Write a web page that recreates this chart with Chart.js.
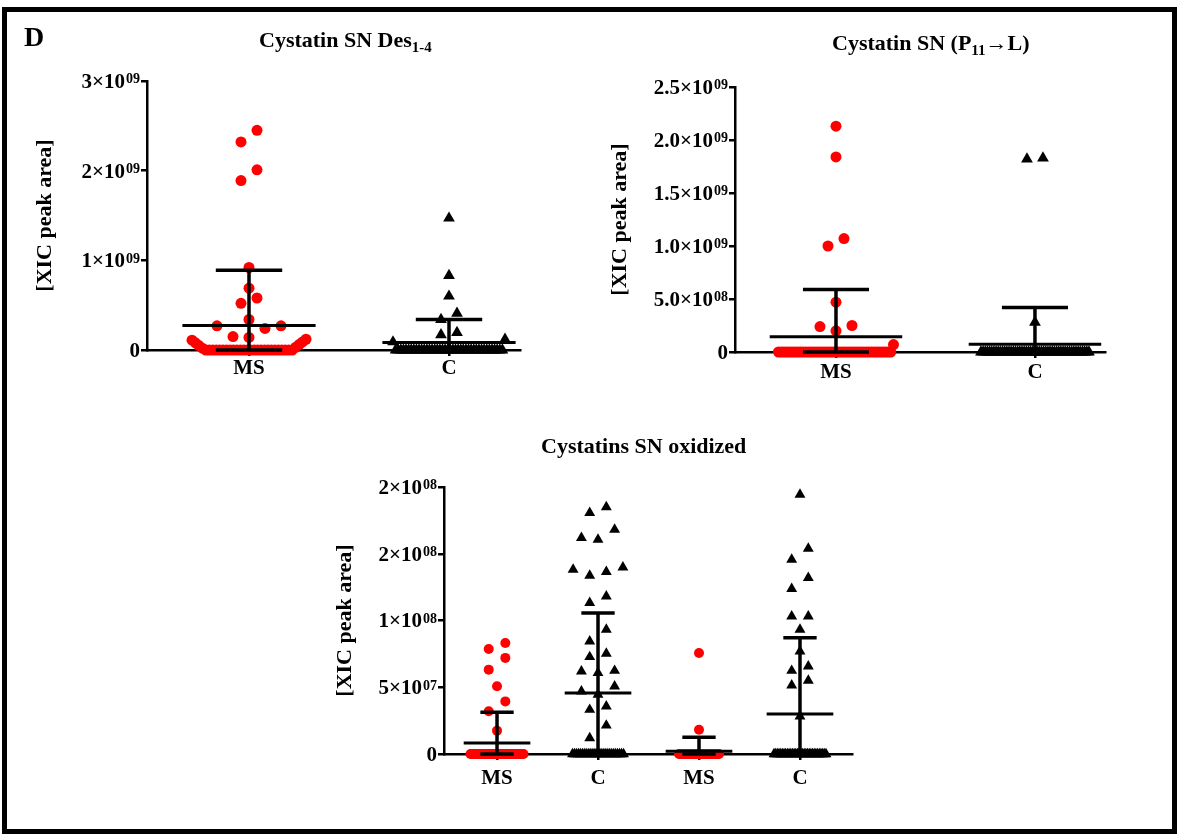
<!DOCTYPE html>
<html>
<head>
<meta charset="utf-8">
<script src="https://cdn.jsdelivr.net/npm/chart.js@4.4.1/dist/chart.umd.min.js"></script>
<style>
  html, body { margin: 0; padding: 0; background: #fff; }
  #page {
    position: relative; width: 1179px; height: 835px; overflow: hidden; background: #fff;
    font-family: 'Liberation Serif', 'Times New Roman', 'DejaVu Serif', serif;
    font-weight: bold; color: #000;
  }
  #frame {
    position: absolute; left: 2px; top: 7px; width: 1175px; height: 827px;
    box-sizing: border-box; border: 5px solid #000;
  }
  canvas { position: absolute; left: 0; top: 0; }
  .t { position: absolute; white-space: nowrap; font-size: 22px; line-height: 22px; }
  .sub { font-size: 15px; position: relative; top: 5px; }
  #panel { font-size: 28px; line-height: 28px; left: 24px; top: 23px; }
  #t1 { left: 259px; top: 29px; }
  #t2 { left: 832px; top: 32px; }
  #t3 { left: 541px; top: 435px; }
</style>
</head>
<body>
<div id="page">
  <div id="frame"></div>
  <canvas id="chartDes" width="1179" height="835"></canvas>
  <canvas id="chartP11" width="1179" height="835"></canvas>
  <canvas id="chartOx" width="1179" height="835"></canvas>
  <div class="t" id="panel">D</div>
  <div class="t" id="t1">Cystatin SN Des<span class="sub">1-4</span></div>
  <div class="t" id="t2">Cystatin SN (P<span class="sub">11</span>→L)</div>
  <div class="t" id="t3">Cystatins SN oxidized</div>
</div>
<script>
// ---------- Cystatin SN Des1-4 ----------
const desCategories = ['MS', 'C'];
const desMS = [
  2.45e9, 2.32e9, 2.01e9, 1.89e9, 0.92e9, 0.69e9, 0.58e9, 0.52e9, 0.34e9, 0.27e9,
  0.27e9, 0.24e9, 0.15e9, 0.14e9, 0.12e9, 0.11e9, 0.09e9, 0.08e9, 0.06e9, 0.05e9,
  0.03e9, 0.02e9,
  0, 0, 0, 0, 0, 0, 0, 0, 0, 0, 0, 0, 0, 0, 0, 0, 0, 0, 0, 0, 0, 0, 0, 0, 0, 0
];
const desC = [
  1.47e9, 0.83e9, 0.60e9, 0.41e9, 0.34e9, 0.195e9, 0.17e9, 0.12e9, 0.09e9,
  0, 0, 0, 0, 0, 0, 0, 0, 0, 0, 0, 0, 0, 0, 0, 0, 0, 0, 0, 0, 0,
  0, 0, 0, 0, 0, 0, 0, 0, 0, 0, 0, 0, 0, 0, 0, 0, 0, 0, 0, 0, 0
];
const desMean = [0.274e9, 0.085e9];
const desSD = [0.616e9, 0.255e9];
const desTicks = [0, 1e9, 2e9, 3e9];
const desTickLabels = ['0', '1×10⁰⁹', '2×10⁰⁹', '3×10⁰⁹'];

// ---------- Cystatin SN (P11→L) ----------
const p11Categories = ['MS', 'C'];
const p11MS = [
  2.13e9, 1.84e9, 1.07e9, 1.00e9, 0.47e9, 0.25e9, 0.24e9, 0.20e9, 0.07e9,
  0, 0, 0, 0, 0, 0, 0, 0, 0, 0, 0, 0, 0, 0, 0, 0, 0, 0, 0, 0, 0,
  0, 0, 0, 0, 0, 0, 0, 0, 0, 0, 0, 0, 0, 0, 0, 0, 0, 0, 0, 0, 0
];
const p11C = [
  1.83e9, 1.82e9, 0.28e9,
  0, 0, 0, 0, 0, 0, 0, 0, 0, 0, 0, 0, 0, 0, 0, 0, 0, 0, 0, 0, 0,
  0, 0, 0, 0, 0, 0, 0, 0, 0, 0, 0, 0, 0, 0, 0, 0, 0, 0, 0, 0, 0,
  0, 0, 0, 0, 0, 0, 0, 0, 0
];
const p11Mean = [0.145e9, 0.073e9];
const p11SD = [0.445e9, 0.347e9];
const p11Ticks = [0, 0.5e9, 1.0e9, 1.5e9, 2.0e9, 2.5e9];
const p11TickLabels = ['0', '5.0×10⁰⁸', '1.0×10⁰⁹', '1.5×10⁰⁹', '2.0×10⁰⁹', '2.5×10⁰⁹'];

// ---------- Cystatins SN oxidized ----------
const oxCategories = ['MS', 'C', 'MS', 'C'];
const oxMS1 = [
  83.2e6, 78.7e6, 72.0e6, 63.2e6, 50.7e6, 39.4e6, 32.0e6, 17.5e6,
  0, 0, 0, 0, 0, 0, 0, 0, 0, 0, 0, 0, 0, 0, 0, 0, 0, 0, 0, 0, 0, 0, 0,
  0, 0, 0, 0, 0, 0, 0, 0, 0, 0, 0, 0, 0, 0, 0, 0, 0, 0, 0, 0, 0, 0
];
const oxC1 = [
  184.9e6, 180.6e6, 168.1e6, 161.9e6, 160.6e6, 139.9e6, 138.2e6, 136.4e6, 133.7e6,
  118.1e6, 113.2e6, 93.2e6, 84.4e6, 75.2e6, 72.7e6, 62.4e6, 61.9e6, 60.7e6,
  50.7e6, 46.9e6, 44.5e6, 35.7e6, 33.2e6, 21.4e6, 12.0e6,
  0, 0, 0, 0, 0, 0, 0, 0, 0, 0, 0, 0, 0, 0, 0, 0, 0, 0, 0, 0, 0, 0, 0, 0, 0, 0, 0
];
const oxMS2 = [
  75.7e6, 18.2e6,
  0, 0, 0, 0, 0, 0, 0, 0, 0, 0, 0, 0, 0, 0, 0, 0, 0, 0, 0, 0, 0, 0, 0,
  0, 0, 0, 0, 0, 0, 0, 0, 0, 0, 0, 0, 0, 0, 0, 0, 0, 0, 0, 0, 0, 0
];
const oxC2 = [
  194.4e6, 153.9e6, 145.7e6, 131.9e6, 123.7e6, 103.2e6, 103.2e6, 93.2e6,
  76.9e6, 65.7e6, 62.4e6, 55.0e6, 51.4e6, 28.2e6,
  0, 0, 0, 0, 0, 0, 0, 0, 0, 0, 0, 0, 0, 0, 0, 0,
  0, 0, 0, 0, 0, 0, 0, 0, 0, 0, 0, 0, 0, 0, 0, 0
];
const oxMean = [8.2e6, 45.7e6, 2.0e6, 30.0e6];
const oxSD = [23.0e6, 60.0e6, 10.5e6, 57.0e6];
const oxTicks = [0, 5e7, 1e8, 1.5e8, 2e8];
const oxTickLabels = ['0', '5×10⁰⁷', '1×10⁰⁸', '2×10⁰⁸', '2×10⁰⁸'];

// ---------- shared styling ----------
const PAGE_W = 1179, PAGE_H = 835;
const SERIF = "'Liberation Serif', 'Times New Roman', 'DejaVu Serif', serif";
const RED = '#ff0000';
const BLACK = '#000000';
const SUPERSCRIPTS = '⁰¹²³⁴⁵⁶⁷⁸⁹';
const TICK_SIZE = 21, EXP_SIZE = 14, TICK_LEN = 6;
const dot = (r, spread) => ({ color: RED, style: 'circle', radius: r, spread });
const tri = (r, spread) => ({ color: BLACK, style: 'triangle', radius: r, spread });

// Split "3×10⁰⁹" into the mantissa part and the exponent digits.
function splitPower(label) {
  let base = '', exp = '';
  for (const ch of label) {
    const k = SUPERSCRIPTS.indexOf(ch);
    if (k >= 0) exp += String(k); else base += ch;
  }
  return { base, exp };
}

// Column scatter layout: points whose values lie within one row height are
// laid side by side around the column centre; crowded rows are compressed.
function layoutColumns(chart, spec) {
  const xs = chart.scales.x, ys = chart.scales.y;
  spec.series.forEach((values, gi) => {
    const look = spec.looks[gi];
    const cx = xs.getPixelForValue(gi + 1);
    const pts = values.map(v => ({ v, py: ys.getPixelForValue(v) })).sort((a, b) => a.v - b.v);
    const rows = [];
    let row = null;
    pts.forEach(p => {
      if (!row || row.base - p.py >= spec.rowGap) { row = { base: p.py, items: [] }; rows.push(row); }
      row.items.push(p);
    });
    const data = [];
    rows.forEach(r => {
      const n = r.items.length;
      let step = spec.step;
      if (n > 1 && (n - 1) * step > look.spread) step = look.spread / (n - 1);
      const slots = r.items.map((_, i) => (i - (n - 1) / 2) * step)
        .sort((a, b) => (Math.abs(a) - Math.abs(b)) || (a - b));
      r.items.forEach((p, i) => data.push({ x: xs.getValueForPixel(cx + slots[i]), y: p.v }));
    });
    chart.data.datasets[gi].data = data;
  });
  chart.update('none');
}

function strokeLine(ctx, x1, y1, x2, y2, w) {
  ctx.lineWidth = w;
  ctx.beginPath(); ctx.moveTo(x1, y1); ctx.lineTo(x2, y2); ctx.stroke();
}

function makePanel(canvasId, spec) {
  const a = spec.area;
  const panelPlugin = {
    id: 'panel_' + canvasId,
    // mean line with SD whiskers over each column
    afterDatasetsDraw(chart) {
      const { ctx } = chart;
      const x = chart.scales.x, y = chart.scales.y;
      ctx.save();
      ctx.strokeStyle = BLACK;
      ctx.lineCap = 'butt';
      spec.mean.forEach((m, i) => {
        const c = i + 1;
        const hi = m + spec.sd[i];
        const lo = Math.max(0, m - spec.sd[i]);
        const px = x.getPixelForValue(c);
        strokeLine(ctx, px, y.getPixelForValue(lo), px, y.getPixelForValue(hi), spec.stemWidth);
        [hi, lo].forEach(v => {
          const py = y.getPixelForValue(v);
          strokeLine(ctx, x.getPixelForValue(c - spec.capHalf), py, x.getPixelForValue(c + spec.capHalf), py, spec.capWidth);
        });
        const pm = y.getPixelForValue(m);
        strokeLine(ctx, x.getPixelForValue(c - spec.meanHalf), pm, x.getPixelForValue(c + spec.meanHalf), pm, spec.meanWidth);
      });
      ctx.restore();
    },
    // y tick labels in power-of-ten notation with raised exponents
    afterDraw(chart) {
      const { ctx } = chart;
      const y = chart.scales.y;
      const right = chart.chartArea.left - TICK_LEN - 1;
      ctx.save();
      ctx.fillStyle = BLACK;
      ctx.textAlign = 'left';
      ctx.textBaseline = 'alphabetic';
      const baseFont = `bold ${TICK_SIZE}px ${SERIF}`;
      const expFont = `bold ${EXP_SIZE}px ${SERIF}`;
      const capHalf = TICK_SIZE * 0.662 / 2;
      y.ticks.forEach((t, i) => {
        const { base, exp } = splitPower(spec.tickLabels[i]);
        const py = y.getPixelForValue(t.value);
        ctx.font = expFont;
        const wExp = exp ? ctx.measureText(exp).width + 1 : 0;
        ctx.font = baseFont;
        const wBase = ctx.measureText(base).width;
        const x0 = right - wExp - wBase;
        ctx.fillText(base, x0, py + capHalf);
        if (exp) {
          ctx.font = expFont;
          ctx.fillText(exp, x0 + wBase + 1, py - capHalf + EXP_SIZE * 0.662);
        }
      });
      ctx.restore();
    }
  };

  const chart = new Chart(document.getElementById(canvasId), {
    type: 'scatter',
    data: {
      datasets: spec.series.map((values, gi) => ({
        data: values.map(v => ({ x: gi + 1, y: v })),
        pointStyle: spec.looks[gi].style,
        pointRadius: spec.looks[gi].radius,
        backgroundColor: spec.looks[gi].color,
        borderColor: spec.looks[gi].color,
        borderWidth: 0,
        clip: false
      }))
    },
    options: {
      responsive: false,
      animation: false,
      events: [],
      layout: {
        padding: {
          left: a.left - spec.yWidth,
          top: a.top,
          right: PAGE_W - a.right,
          bottom: PAGE_H - a.bottom - spec.xHeight
        }
      },
      plugins: { legend: { display: false }, tooltip: { enabled: false }, title: { display: false } },
      scales: {
        x: {
          type: 'linear',
          min: spec.xMin, max: spec.xMax,
          afterBuildTicks: s => { s.ticks = spec.categories.map((_, i) => ({ value: i + 1 })); },
          afterFit: s => { s.height = spec.xHeight; },
          ticks: {
            autoSkip: false, maxRotation: 0, padding: spec.xPad, color: BLACK,
            font: { family: SERIF, size: 21, weight: 'bold' },
            callback: (v, i) => spec.categories[i]
          },
          grid: { display: true, drawOnChartArea: false, drawTicks: true, tickLength: TICK_LEN, color: BLACK, lineWidth: 2.5 },
          border: { display: true, color: BLACK, width: 2.5 }
        },
        y: {
          type: 'linear',
          min: 0, max: spec.yMax,
          afterBuildTicks: s => { s.ticks = spec.ticks.map(v => ({ value: v })); },
          afterFit: s => { s.width = spec.yWidth; },
          ticks: { display: false, autoSkip: false },
          title: {
            display: true, text: '[XIC peak area]', color: BLACK, padding: 0,
            font: { family: SERIF, size: 22, weight: 'bold' }
          },
          grid: { display: true, drawOnChartArea: false, drawTicks: true, tickLength: TICK_LEN, color: BLACK, lineWidth: 2.5 },
          border: { display: true, color: BLACK, width: 2.5 }
        }
      }
    },
    plugins: [panelPlugin]
  });
  layoutColumns(chart, spec);
  return chart;
}

makePanel('chartDes', {
  area: { left: 147, top: 81, right: 520, bottom: 350 },
  yWidth: 115, xHeight: 40, xPad: 0,
  xMin: 0.49, xMax: 2.355, yMax: 3e9,
  categories: desCategories, ticks: desTicks, tickLabels: desTickLabels,
  series: [desMS, desC], looks: [dot(5.5, 114), tri(6.8, 112)],
  mean: desMean, sd: desSD,
  rowGap: 12, step: 16,
  meanHalf: 0.333, capHalf: 0.166, meanWidth: 3, capWidth: 3.5, stemWidth: 3.5
});

makePanel('chartP11', {
  area: { left: 735, top: 87, right: 1105, bottom: 352 },
  yWidth: 128, xHeight: 40, xPad: 2,
  xMin: 0.4925, xMax: 2.352, yMax: 2.5e9,
  categories: p11Categories, ticks: p11Ticks, tickLabels: p11TickLabels,
  series: [p11MS, p11C], looks: [dot(5.5, 115), tri(6.8, 108)],
  mean: p11Mean, sd: p11SD,
  rowGap: 12, step: 16,
  meanHalf: 0.333, capHalf: 0.166, meanWidth: 3, capWidth: 3.5, stemWidth: 3.5
});

makePanel('chartOx', {
  area: { left: 444, top: 487, right: 852, bottom: 754 },
  yWidth: 112, xHeight: 40, xPad: 6,
  xMin: 0.475, xMax: 4.515, yMax: 2e8,
  categories: oxCategories, ticks: oxTicks, tickLabels: oxTickLabels,
  series: [oxMS1, oxC1, oxMS2, oxC2], looks: [dot(5, 53), tri(6.3, 51), dot(5, 40), tri(6.3, 52)],
  mean: oxMean, sd: oxSD,
  rowGap: 13, step: 16.6,
  meanHalf: 0.33, capHalf: 0.165, meanWidth: 3, capWidth: 3.5, stemWidth: 3.5
});
</script>
</body>
</html>
